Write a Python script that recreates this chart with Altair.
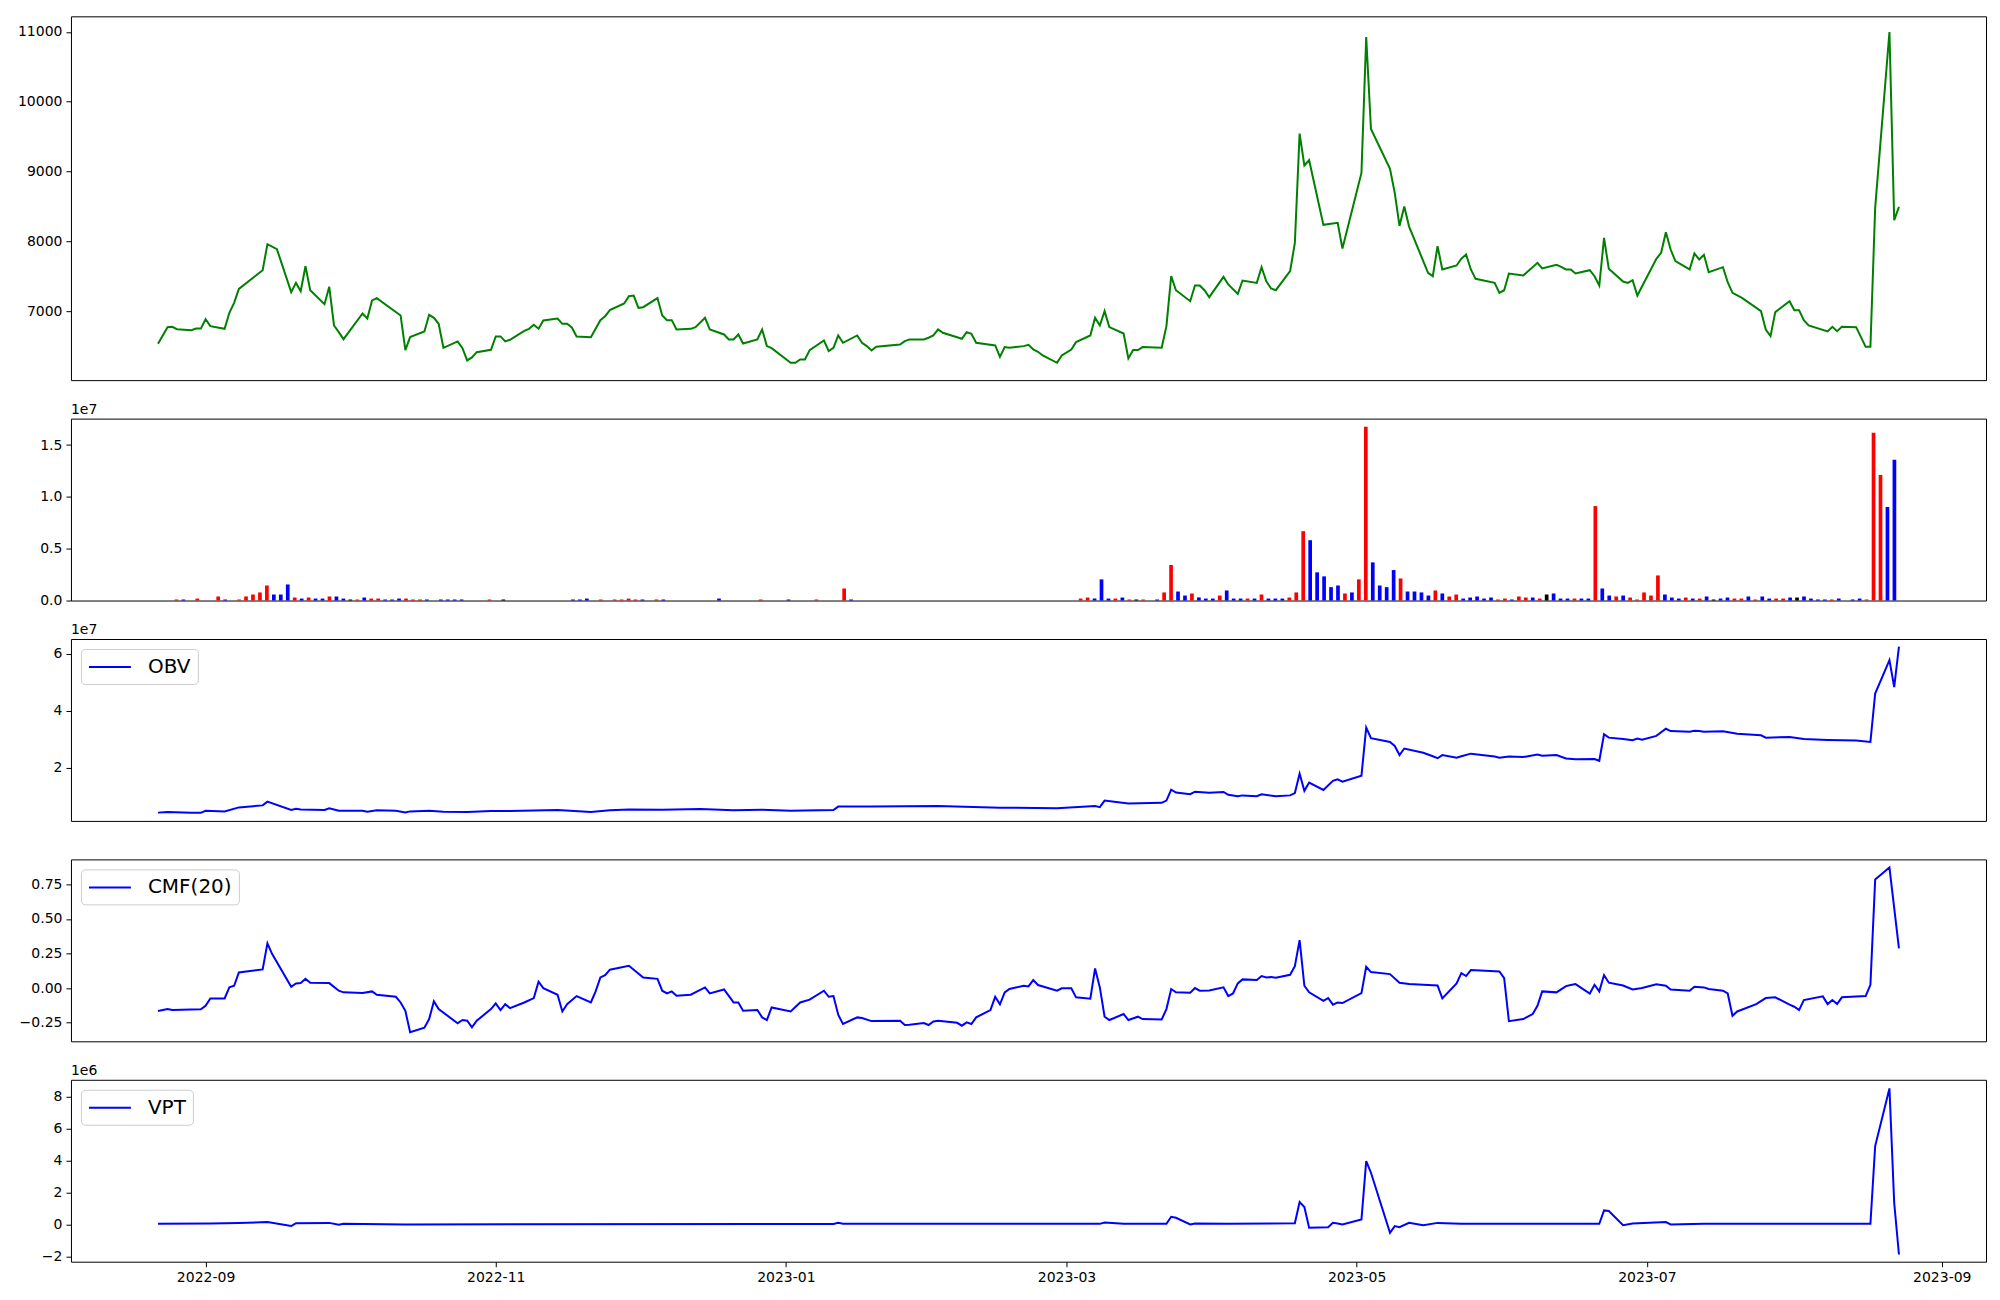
import altair as alt
import pandas as pd

# ---------------- data ----------------
price_dates = [
    "2022-08-22","2022-08-24","2022-08-25","2022-08-26","2022-08-29","2022-08-30","2022-08-31","2022-09-01","2022-09-02",
    "2022-09-05","2022-09-06","2022-09-07","2022-09-08","2022-09-13","2022-09-14","2022-09-16","2022-09-19","2022-09-20",
    "2022-09-21","2022-09-22","2022-09-23","2022-09-26","2022-09-27","2022-09-28","2022-09-29","2022-09-30","2022-10-04",
    "2022-10-05","2022-10-06","2022-10-07","2022-10-12","2022-10-13","2022-10-14","2022-10-17","2022-10-18","2022-10-19",
    "2022-10-20","2022-10-21","2022-10-24","2022-10-25","2022-10-26","2022-10-27","2022-10-28","2022-10-31","2022-11-01",
    "2022-11-02","2022-11-03","2022-11-04","2022-11-07","2022-11-08","2022-11-09","2022-11-10","2022-11-11","2022-11-14",
    "2022-11-15","2022-11-16","2022-11-17","2022-11-18","2022-11-21","2022-11-23","2022-11-24","2022-11-25","2022-11-28",
    "2022-11-29","2022-11-30","2022-12-01","2022-12-02","2022-12-05","2022-12-06","2022-12-07","2022-12-08","2022-12-09",
    "2022-12-12","2022-12-13","2022-12-15","2022-12-16","2022-12-19","2022-12-20","2022-12-21","2022-12-22","2022-12-23",
    "2022-12-26","2022-12-27","2022-12-28","2022-12-29","2023-01-02","2023-01-03","2023-01-04","2023-01-05","2023-01-06",
    "2023-01-09","2023-01-10","2023-01-11","2023-01-12","2023-01-13","2023-01-16","2023-01-17","2023-01-18","2023-01-19",
    "2023-01-20","2023-01-25","2023-01-26","2023-01-27","2023-01-30","2023-01-31","2023-02-01","2023-02-02","2023-02-03",
    "2023-02-07","2023-02-08","2023-02-09","2023-02-10","2023-02-14","2023-02-15","2023-02-16","2023-02-17","2023-02-20",
    "2023-02-21","2023-02-22","2023-02-23","2023-02-24","2023-02-27","2023-02-28","2023-03-02","2023-03-03","2023-03-06",
    "2023-03-07","2023-03-08","2023-03-09","2023-03-10","2023-03-13","2023-03-14","2023-03-15","2023-03-16","2023-03-17",
    "2023-03-21","2023-03-22","2023-03-23","2023-03-24","2023-03-27","2023-03-28","2023-03-29","2023-03-30","2023-03-31",
    "2023-04-03","2023-04-04","2023-04-06","2023-04-07","2023-04-10","2023-04-11","2023-04-12","2023-04-13","2023-04-14",
    "2023-04-17","2023-04-18","2023-04-19","2023-04-20","2023-04-21","2023-04-24","2023-04-27","2023-04-28","2023-05-02",
    "2023-05-03","2023-05-04","2023-05-08","2023-05-09","2023-05-10","2023-05-11","2023-05-12","2023-05-16","2023-05-17",
    "2023-05-18","2023-05-19","2023-05-22","2023-05-23","2023-05-24","2023-05-25","2023-05-26","2023-05-30","2023-05-31",
    "2023-06-01","2023-06-02","2023-06-05","2023-06-08","2023-06-09","2023-06-12","2023-06-13","2023-06-14","2023-06-15",
    "2023-06-16","2023-06-19","2023-06-20","2023-06-21","2023-06-22","2023-06-23","2023-06-26","2023-06-27","2023-06-28",
    "2023-06-29","2023-07-03","2023-07-04","2023-07-05","2023-07-06","2023-07-07","2023-07-10","2023-07-11","2023-07-12",
    "2023-07-13","2023-07-14","2023-07-17","2023-07-18","2023-07-19","2023-07-21","2023-07-25","2023-07-26","2023-07-27",
    "2023-07-28","2023-07-31","2023-08-01","2023-08-02","2023-08-03","2023-08-04","2023-08-08","2023-08-09","2023-08-10",
    "2023-08-11","2023-08-14","2023-08-16","2023-08-17","2023-08-18","2023-08-21","2023-08-22","2023-08-23",
]
price_values = [
    6532,6771,6775,6742,6728,6750,6750,6885,6785,
    6747,6976,7119,7319,7587,7959,7888,7272,7405,
    7286,7644,7300,7100,7348,6795,6700,6599,6967,
    6895,7153,7187,6938,6442,6628,6709,6948,6905,
    6819,6475,6566,6470,6294,6337,6413,6446,6638,
    6638,6566,6590,6718,6747,6804,6747,6866,6895,
    6819,6819,6766,6638,6628,6871,6928,7014,7110,
    7215,7224,7048,7057,7187,6938,6871,6871,6737,
    6747,6771,6905,6737,6666,6594,6594,6666,6537,
    6594,6737,6499,6470,6260,6260,6308,6308,6442,
    6580,6428,6475,6652,6547,6652,6547,6499,6437,
    6490,6523,6571,6595,6595,6619,6652,6738,6690,
    6604,6700,6676,6547,6509,6346,6485,6475,6499,
    6518,6451,6418,6365,6260,6365,6451,6556,6652,
    6905,6795,7000,6771,6680,6322,6442,6442,6485,
    6475,6785,7501,7300,7143,7368,7368,7300,7200,
    7491,7382,7248,7439,7405,7630,7429,7324,7300,
    7573,7978,9544,9086,9162,8236,8265,7897,8980,
    10927,9610,9038,8694,8220,8500,8215,7549,7501,
    7931,7597,7654,7750,7811,7597,7463,7405,7262,
    7300,7539,7510,7692,7611,7663,7635,7597,7597,
    7539,7587,7501,7367,8050,7606,7425,7405,7444,
    7224,7750,7836,8131,7883,7716,7597,7826,7740,
    7807,7558,7630,7415,7262,7190,7000,6737,6642,
    6986,7143,7014,7014,6871,6795,6709,6776,6714,
    6776,6771,6489,6489,8479,10999,8303,8493,
]

# volume bars: the bars sit on evenly spaced session slots
# (slot 0 = first session 2022-08-22, slot 249 = last session 2023-08-23); values in millions
vol_slots = ([2,3,5,8,9,11,12,13,14,15,16,17,18,19,20,21,22,23,24,25,26,27,28,29,30,31,32,33,34,35,36,37,38,
              40,41,42,43,47,49,59,60,61,63,65,66,67,68,69,71,72,80,86,90,94,98,99]
             + list(range(132, 142)) + list(range(143, 242)) + list(range(243, 250)))
vol_values = [
    0.10,0.10,0.19,0.39,0.10,0.10,0.39,0.58,0.78,
    1.45,0.58,0.58,1.55,0.29,0.19,0.29,0.19,0.19,
    0.39,0.39,0.19,0.10,0.10,0.29,0.19,0.19,0.10,
    0.10,0.19,0.19,0.10,0.10,0.10,0.10,0.10,0.10,
    0.10,0.10,0.10,0.10,0.10,0.19,0.10,0.10,0.10,
    0.19,0.10,0.10,0.10,0.10,0.19,0.10,0.10,0.10,
    1.16,0.10,
    0.19,0.29,0.19,2.04,0.19,0.19,0.29,0.10,0.10,
    0.10,0.10,0.78,3.43,0.87,0.48,0.68,0.30,0.19,
    0.19,0.48,0.97,0.19,0.19,0.19,0.19,0.58,0.19,
    0.19,0.19,0.29,0.78,6.69,5.82,2.72,2.33,1.29,
    1.45,0.68,0.78,2.04,16.77,3.68,1.45,1.29,2.94,
    2.13,0.87,0.87,0.78,0.48,0.97,0.68,0.39,0.58,
    0.19,0.29,0.39,0.19,0.29,0.10,0.19,0.10,0.39,
    0.29,0.29,0.19,0.58,0.68,0.19,0.19,0.19,0.19,
    0.19,9.11,1.16,0.48,0.39,0.48,0.29,0.10,0.78,
    0.48,2.42,0.58,0.29,0.19,0.29,0.19,0.19,0.39,
    0.10,0.19,0.29,0.19,0.19,0.39,0.10,0.39,0.19,
    0.19,0.19,0.29,0.29,0.39,0.19,0.10,0.10,0.10,
    0.19,0.10,0.19,0.10,16.19,12.12,9.02,13.57,
]
vol_colors = [
    "red","blue","red","red","blue","red","red","red","red",
    "red","blue","blue","blue","red","blue","red","blue","blue",
    "red","blue","blue","black","red","blue","red","red","blue",
    "blue","blue","red","red","red","blue","blue","blue","blue",
    "blue","red","black","blue","blue","blue","red","red","red",
    "red","red","blue","red","blue","blue","red","blue","red",
    "red","blue",
    "red","red","blue","blue","blue","red","blue","red","black",
    "red","blue","red","red","blue","blue","red","blue","blue",
    "blue","red","blue","blue","blue","red","blue","red","blue",
    "blue","blue","red","red","red","blue","blue","blue","blue",
    "blue","red","blue","red","red","blue","blue","blue","blue",
    "red","blue","blue","blue","blue","red","blue","red","red",
    "blue","blue","blue","blue","blue","red","red","blue","red",
    "red","blue","red","black","blue","blue","blue","red","blue",
    "blue","red","blue","blue","red","blue","red","red","red",
    "red","red","blue","blue","blue","red","blue","red","blue",
    "black","blue","blue","red","red","blue","red","blue","blue",
    "red","red","blue","black","blue","blue","blue","blue","red",
    "blue","blue","blue","red","red","red","blue","blue",
]

# OBV (units of 1e7)
obv_dates = [
    "2022-08-22","2022-08-24","2022-08-29","2022-08-31","2022-09-01","2022-09-05","2022-09-08","2022-09-13","2022-09-14",
    "2022-09-19","2022-09-20","2022-09-21","2022-09-26","2022-09-27","2022-09-29","2022-10-04","2022-10-05","2022-10-07",
    "2022-10-11","2022-10-13","2022-10-14","2022-10-18","2022-10-21","2022-10-26","2022-10-31","2022-11-04","2022-11-14",
    "2022-11-21","2022-11-25","2022-11-29","2022-12-06","2022-12-14","2022-12-21","2022-12-27","2023-01-02","2023-01-11",
    "2023-01-12","2023-01-19","2023-02-02","2023-02-15","2023-02-27","2023-03-07","2023-03-08","2023-03-09","2023-03-14",
    "2023-03-21","2023-03-22","2023-03-23","2023-03-24","2023-03-27","2023-03-28","2023-03-31","2023-04-03","2023-04-04",
    "2023-04-06","2023-04-07","2023-04-10","2023-04-11","2023-04-14","2023-04-17","2023-04-18","2023-04-19","2023-04-20",
    "2023-04-21","2023-04-24","2023-04-26","2023-04-27","2023-04-28","2023-05-02","2023-05-03","2023-05-04","2023-05-08",
    "2023-05-09","2023-05-10","2023-05-11","2023-05-15","2023-05-17","2023-05-18","2023-05-19","2023-05-22","2023-05-23",
    "2023-05-25","2023-05-30","2023-05-31","2023-06-02","2023-06-05","2023-06-08","2023-06-09","2023-06-12","2023-06-14",
    "2023-06-16","2023-06-20","2023-06-21","2023-06-22","2023-06-23","2023-06-26","2023-06-28","2023-06-29","2023-06-30",
    "2023-07-03","2023-07-05","2023-07-06","2023-07-10","2023-07-11","2023-07-12","2023-07-13","2023-07-17","2023-07-20",
    "2023-07-25","2023-07-26","2023-07-31","2023-08-03","2023-08-08","2023-08-14","2023-08-17","2023-08-18","2023-08-21",
    "2023-08-22","2023-08-23",
]
obv_values = [
    0.437,0.46,0.43,0.43,0.50,0.48,0.62,0.69,0.82,
    0.53,0.57,0.55,0.53,0.59,0.50,0.50,0.47,0.52,
    0.50,0.44,0.48,0.50,0.47,0.46,0.49,0.49,0.53,
    0.46,0.52,0.55,0.54,0.56,0.52,0.54,0.50,0.53,
    0.647,0.65,0.67,0.61,0.59,0.67,0.63,0.857,0.76,
    0.78,0.86,1.24,1.14,1.08,1.17,1.13,1.16,1.06,
    1.01,1.04,1.01,1.08,1.01,1.04,1.12,1.80,1.20,
    1.49,1.23,1.55,1.60,1.52,1.73,3.41,3.04,2.91,
    2.77,2.45,2.68,2.53,2.41,2.34,2.45,2.36,2.41,
    2.50,2.40,2.36,2.40,2.38,2.47,2.43,2.45,2.33,
    2.30,2.31,2.25,3.18,3.06,3.01,2.97,3.03,2.99,
    3.12,3.37,3.29,3.27,3.30,3.29,3.27,3.28,3.20,
    3.14,3.06,3.08,3.01,2.98,2.96,2.91,4.60,5.77,
    4.83,6.24,
]

# CMF(20)
cmf_dates = [
    "2022-08-22","2022-08-24","2022-08-25","2022-08-31","2022-09-01","2022-09-02","2022-09-05","2022-09-06","2022-09-07",
    "2022-09-08","2022-09-13","2022-09-14","2022-09-15","2022-09-19","2022-09-20","2022-09-21","2022-09-22","2022-09-23",
    "2022-09-27","2022-09-29","2022-09-30","2022-10-04","2022-10-06","2022-10-07","2022-10-11","2022-10-12","2022-10-13",
    "2022-10-14","2022-10-17","2022-10-18","2022-10-19","2022-10-20","2022-10-24","2022-10-25","2022-10-26","2022-10-27",
    "2022-10-28","2022-10-31","2022-11-01","2022-11-02","2022-11-03","2022-11-04","2022-11-07","2022-11-09","2022-11-10",
    "2022-11-11","2022-11-14","2022-11-15","2022-11-16","2022-11-18","2022-11-21","2022-11-22","2022-11-23","2022-11-24",
    "2022-11-25","2022-11-29","2022-12-02","2022-12-05","2022-12-06","2022-12-07","2022-12-08","2022-12-09","2022-12-12",
    "2022-12-15","2022-12-16","2022-12-19","2022-12-21","2022-12-22","2022-12-23","2022-12-26","2022-12-27","2022-12-28",
    "2022-12-29","2023-01-02","2023-01-04","2023-01-06","2023-01-09","2023-01-10","2023-01-11","2023-01-12","2023-01-13",
    "2023-01-16","2023-01-17","2023-01-19","2023-01-25","2023-01-26","2023-01-27","2023-01-30","2023-01-31","2023-02-01",
    "2023-02-02","2023-02-06","2023-02-07","2023-02-08","2023-02-09","2023-02-10","2023-02-13","2023-02-14","2023-02-15",
    "2023-02-16","2023-02-17","2023-02-20","2023-02-21","2023-02-22","2023-02-23","2023-02-27","2023-02-28","2023-03-02",
    "2023-03-03","2023-03-06","2023-03-07","2023-03-08","2023-03-09","2023-03-10","2023-03-13","2023-03-14","2023-03-16",
    "2023-03-17","2023-03-21","2023-03-22","2023-03-23","2023-03-24","2023-03-27","2023-03-28","2023-03-29","2023-03-31",
    "2023-04-03","2023-04-04","2023-04-05","2023-04-06","2023-04-07","2023-04-10","2023-04-11","2023-04-12","2023-04-13",
    "2023-04-14","2023-04-17","2023-04-18","2023-04-19","2023-04-20","2023-04-21","2023-04-24","2023-04-25","2023-04-26",
    "2023-04-27","2023-04-28","2023-05-02","2023-05-03","2023-05-04","2023-05-08","2023-05-10","2023-05-12","2023-05-15",
    "2023-05-18","2023-05-19","2023-05-22","2023-05-23","2023-05-24","2023-05-25","2023-05-31","2023-06-01","2023-06-02",
    "2023-06-05","2023-06-07","2023-06-08","2023-06-09","2023-06-12","2023-06-14","2023-06-15","2023-06-16","2023-06-19",
    "2023-06-20","2023-06-21","2023-06-22","2023-06-23","2023-06-26","2023-06-28","2023-06-30","2023-07-03","2023-07-05",
    "2023-07-06","2023-07-10","2023-07-11","2023-07-13","2023-07-14","2023-07-17","2023-07-18","2023-07-19","2023-07-20",
    "2023-07-24","2023-07-26","2023-07-28","2023-07-31","2023-08-01","2023-08-02","2023-08-03","2023-08-07","2023-08-08",
    "2023-08-09","2023-08-10","2023-08-11","2023-08-16","2023-08-17","2023-08-18","2023-08-21","2023-08-23",
]
cmf_values = [
    -0.166,-0.152,-0.159,-0.154,-0.128,-0.075,-0.075,0.005,0.017,
    0.113,0.135,0.323,0.246,0.010,0.034,0.036,0.067,0.039,
    0.036,-0.019,-0.031,-0.036,-0.024,-0.048,-0.063,-0.104,-0.164,
    -0.320,-0.287,-0.224,-0.096,-0.152,-0.255,-0.231,-0.236,-0.284,
    -0.236,-0.152,-0.111,-0.159,-0.116,-0.145,-0.104,-0.072,0.046,
    0.000,-0.048,-0.169,-0.116,-0.058,-0.104,-0.024,0.077,0.094,
    0.133,0.161,0.077,0.067,-0.019,-0.039,-0.024,-0.055,-0.048,
    0.005,-0.039,-0.010,-0.104,-0.104,-0.164,-0.159,-0.212,-0.231,
    -0.140,-0.169,-0.104,-0.084,-0.019,-0.063,-0.058,-0.193,-0.260,
    -0.212,-0.217,-0.239,-0.236,-0.267,-0.265,-0.253,-0.267,-0.241,
    -0.236,-0.251,-0.272,-0.248,-0.260,-0.212,-0.159,-0.063,-0.118,
    -0.031,-0.007,0.017,0.012,0.058,0.022,-0.019,-0.002,-0.002,
    -0.067,-0.077,0.142,0.005,-0.207,-0.231,-0.188,-0.231,-0.207,
    -0.224,-0.227,-0.152,-0.007,-0.031,-0.034,0.000,-0.019,-0.017,
    0.005,-0.058,-0.039,0.034,0.063,0.058,0.087,0.077,0.080,
    0.075,0.096,0.159,0.347,0.017,-0.031,-0.092,-0.072,-0.120,
    -0.104,-0.108,-0.036,0.154,0.116,0.101,0.039,0.029,0.024,
    0.019,-0.075,0.034,0.108,0.087,0.130,0.120,0.072,-0.239,
    -0.224,-0.188,-0.128,-0.024,-0.031,0.014,0.022,0.029,-0.039,
    0.024,-0.024,0.094,0.039,0.019,-0.010,0.000,0.027,0.017,
    -0.010,-0.019,0.010,0.005,-0.007,-0.019,-0.039,-0.200,-0.169,
    -0.116,-0.072,-0.067,-0.120,-0.135,-0.159,-0.087,-0.060,-0.116,
    -0.087,-0.116,-0.067,-0.058,0.024,0.786,0.872,0.287,
]

# VPT (units of 1e6)
vpt_dates = [
    "2022-08-22","2022-09-02","2022-09-08","2022-09-14","2022-09-19","2022-09-20","2022-09-27","2022-09-29","2022-09-30",
    "2022-10-13","2023-01-11","2023-01-12","2023-01-13","2023-03-08","2023-03-09","2023-03-13","2023-03-22","2023-03-23",
    "2023-03-24","2023-03-27","2023-03-28","2023-04-04","2023-04-18","2023-04-19","2023-04-20","2023-04-21","2023-04-25",
    "2023-04-26","2023-04-27","2023-04-28","2023-05-02","2023-05-03","2023-05-04","2023-05-08","2023-05-09","2023-05-10",
    "2023-05-12","2023-05-15","2023-05-18","2023-05-23","2023-06-21","2023-06-22","2023-06-23","2023-06-26","2023-06-28",
    "2023-07-05","2023-07-06","2023-07-13","2023-08-17","2023-08-18","2023-08-21","2023-08-22","2023-08-23",
]
vpt_values = [
    0.04,0.06,0.10,0.15,-0.10,0.08,0.10,-0.02,0.04,
    0.00,0.03,0.10,0.04,0.04,0.12,0.04,0.04,0.48,
    0.42,0.00,0.06,0.04,0.08,1.40,1.09,-0.21,-0.17,
    0.10,0.06,0.00,0.31,3.97,3.24,-0.52,-0.10,-0.17,
    0.10,-0.04,0.10,0.04,0.04,0.88,0.84,-0.04,0.06,
    0.15,0.00,0.04,0.04,4.91,8.52,1.36,-1.88,
]

# ---------------- styling helpers ----------------
FONT = "DejaVu Sans"
W = 1916
N_SLOTS = 250


def utc(y, m, d, h=0, mi=0):
    return alt.DateTime(year=y, month=m, date=d, hours=h, minutes=mi, utc=True)


X_DOMAIN = [utc(2022, 8, 3, 16, 48), utc(2023, 9, 10, 7, 12)]
X_TICKS = [utc(2022, 9, 1), utc(2022, 11, 1), utc(2023, 1, 1), utc(2023, 3, 1),
           utc(2023, 5, 1), utc(2023, 7, 1), utc(2023, 9, 1)]


def xenc(show=False):
    if show:
        axis = alt.Axis(values=X_TICKS, format="%Y-%m", title=None, grid=False, domain=False,
                        tickSize=5, tickColor="black", tickWidth=1, labelFont=FONT, labelFontSize=14,
                        labelColor="black", labelPadding=4, labelFlush=False, labelOverlap=False)
        return alt.X("date:T", scale=alt.Scale(type="utc", domain=X_DOMAIN), axis=axis)
    return alt.X("date:T", scale=alt.Scale(type="utc", domain=X_DOMAIN), axis=None)


def yaxis(values, fmt=None, expr=None):
    kw = dict(values=values, title=None, grid=False, domain=False, tickSize=5, tickColor="black",
              tickWidth=1, labelFont=FONT, labelFontSize=14, labelColor="black", labelPadding=4,
              labelFlush=False, labelOverlap=False)
    if fmt:
        kw["format"] = fmt
    if expr:
        kw["labelExpr"] = expr
    return alt.Axis(**kw)


def legend():
    return alt.Legend(title=None, orient="top-left", offset=10, padding=7, fillColor="white",
                      strokeColor="#cccccc", cornerRadius=4, labelFont=FONT, labelFontSize=20,
                      labelColor="black", symbolType="M-1,0H3.2", symbolSize=400,
                      symbolStrokeWidth=2, symbolFillColor="transparent", labelOffset=38)


def offset_text(s):
    return alt.Chart(pd.DataFrame({"t": [s]})).mark_text(
        align="left", baseline="alphabetic", font=FONT, fontSize=14, color="black"
    ).encode(text="t:N", x=alt.value(0), y=alt.value(-5))


# ---------------- panels ----------------
price_df = pd.DataFrame({"date": price_dates, "price": price_values})
p1 = alt.Chart(price_df).mark_line(color="green", strokeWidth=2).encode(
    x=xenc(),
    y=alt.Y("price:Q", scale=alt.Scale(domain=[6012, 11223], nice=False, zero=False),
            axis=yaxis([7000, 8000, 9000, 10000, 11000], fmt="d")),
).properties(width=W, height=364)

vol_df = pd.DataFrame({"slot": vol_slots, "vol": vol_values, "col": vol_colors})
pad = 0.05 * (N_SLOTS - 1)
bars = alt.Chart(vol_df).mark_bar(width=3.7).encode(
    x=alt.X("slot:Q", scale=alt.Scale(domain=[-pad, N_SLOTS - 1 + pad], nice=False, zero=False),
            axis=None),
    y=alt.Y("vol:Q", stack=None, scale=alt.Scale(domain=[0, 17.55], nice=False, zero=True),
            axis=yaxis([0, 5, 10, 15], expr="format(datum.value / 10, '.1f')")),
    color=alt.Color("col:N", scale=None),
)
p2 = alt.layer(bars, offset_text("1e7")).properties(width=W, height=182)

obv_df = pd.DataFrame({"date": obv_dates, "v": obv_values, "s": "OBV"})
obv_line = alt.Chart(obv_df).mark_line(strokeWidth=2).encode(
    x=xenc(),
    y=alt.Y("v:Q", scale=alt.Scale(domain=[0.147, 6.51], nice=False, zero=False),
            axis=yaxis([2, 4, 6], fmt="d")),
    color=alt.Color("s:N", scale=alt.Scale(domain=["OBV"], range=["blue"]), legend=legend()),
)
p3 = alt.layer(obv_line, offset_text("1e7")).properties(width=W, height=182)

cmf_df = pd.DataFrame({"date": cmf_dates, "v": cmf_values, "s": "CMF(20)"})
p4 = alt.Chart(cmf_df).mark_line(strokeWidth=2).encode(
    x=xenc(),
    y=alt.Y("v:Q", scale=alt.Scale(domain=[-0.385, 0.931], nice=False, zero=False),
            axis=yaxis([-0.25, 0.0, 0.25, 0.5, 0.75], fmt=".2f")),
    color=alt.Color("s:N", scale=alt.Scale(domain=["CMF(20)"], range=["blue"]), legend=legend()),
).properties(width=W, height=182)

vpt_df = pd.DataFrame({"date": vpt_dates, "v": vpt_values, "s": "VPT"})
vpt_line = alt.Chart(vpt_df).mark_line(strokeWidth=2).encode(
    x=xenc(show=True),
    y=alt.Y("v:Q", scale=alt.Scale(domain=[-2.33, 9.06], nice=False, zero=False),
            axis=yaxis([-2, 0, 2, 4, 6, 8], fmt="d")),
    color=alt.Color("s:N", scale=alt.Scale(domain=["VPT"], range=["blue"]), legend=legend()),
)
p5 = alt.layer(vpt_line, offset_text("1e6")).properties(width=W, height=182)

chart = alt.vconcat(p1, p2, p3, p4, p5, spacing=38.5, bounds="flush").resolve_scale(
    color="independent"
).properties(
    padding={"left": 8, "top": 7, "right": 5, "bottom": 5},
    background="white",
).configure_view(stroke="black", strokeWidth=1)

chart.save("out.html", embed_options={"renderer": "svg", "actions": False})
